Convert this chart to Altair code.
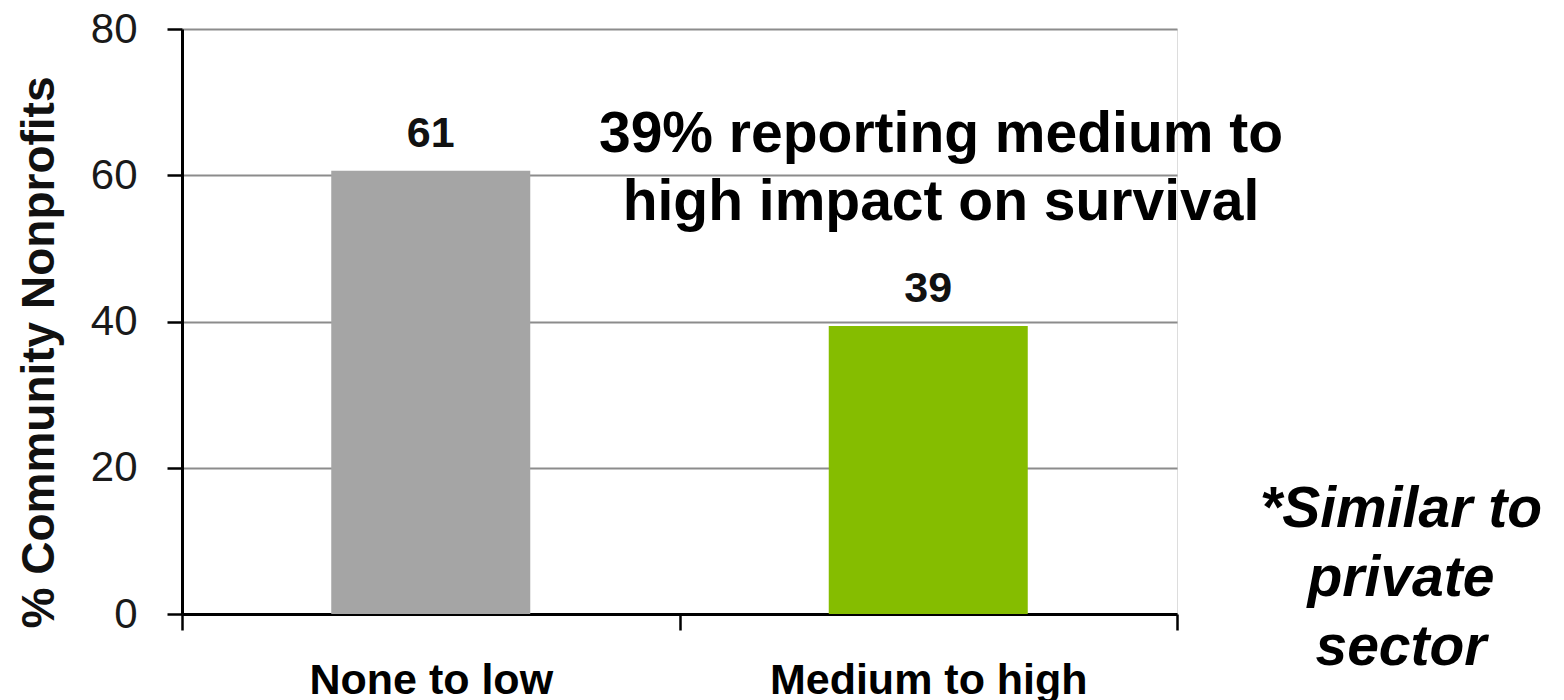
import altair as alt
import pandas as pd

categories = ["None to low", "Medium to high"]
values = [60.6, 39.4]
value_labels = ["61", "39"]
bar_colors = ["#A5A5A5", "#85BD00"]
y_ticks = [0, 20, 40, 60, 80]
y_title = "% Community Nonprofits"
annotation_lines = ["39% reporting medium to", "high impact on survival"]
footnote_lines = ["*Similar to", "private", "sector"]

df = pd.DataFrame({"category": categories, "value": values, "label": value_labels})

W, H = 995, 585

x_enc = alt.X(
    "category:N",
    sort=categories,
    scale=alt.Scale(paddingInner=0, paddingOuter=0),
    axis=alt.Axis(
        title=None,
        labelAngle=0,
        labelLimit=0,
        tickBand="extent",
        tickSize=16,
        tickWidth=2.5,
        tickColor="#000000",
        domainColor="#000000",
        domainWidth=3,
        labelFont="Liberation Sans",
        labelFontWeight="bold",
        labelFontSize=43,
        labelColor="#000000",
        labelBaseline="alphabetic",
        labelPadding=63,
        grid=False,
    ),
)

y_enc = alt.Y(
    "value:Q",
    scale=alt.Scale(domain=[0, 80], nice=False),
    axis=alt.Axis(
        values=y_ticks,
        title=y_title,
        titleFont="Liberation Sans",
        titleFontWeight="bold",
        titleFontSize=46,
        titleColor="#111111",
        titleBaseline="alphabetic",
        titleAngle=270,
        titleX=-129,
        titleY=323,
        titleAlign="center",
        labelFont="Liberation Sans",
        labelFontSize=42,
        labelColor="#1a1a1a",
        labelPadding=30,
        tickSize=15,
        tickWidth=2.5,
        tickColor="#000000",
        domainColor="#000000",
        domainWidth=3,
        grid=True,
        gridColor="#8c8c8c",
        gridWidth=2,
    ),
)

bars = alt.Chart(df).mark_bar(width=alt.RelativeBandSize(0.4)).encode(
    x=x_enc,
    y=y_enc,
    color=alt.Color("category:N", sort=categories,
                    scale=alt.Scale(domain=categories, range=bar_colors), legend=None),
)

bar_text = alt.Chart(df).mark_text(
    font="Liberation Sans", fontWeight="bold", fontSize=43, color="#111111",
    baseline="alphabetic", dy=-24,
).encode(
    x=alt.X("category:N", sort=categories),
    y="value:Q",
    text="label:N",
)

annotation = alt.Chart(pd.DataFrame({"note": ["\n".join(annotation_lines)]})).mark_text(
    font="Liberation Sans", fontWeight="bold", fontSize=57, color="#000000",
    baseline="alphabetic", align="center", lineBreak="\n", lineHeight=68,
).encode(
    text="note:N",
    x=alt.value(759),
    y=alt.value(123),
)

footnote = alt.Chart(pd.DataFrame({"note": ["\n".join(footnote_lines)]})).mark_text(
    font="Liberation Sans", fontWeight="bold", fontStyle="italic", fontSize=57,
    color="#000000", baseline="alphabetic", align="center", lineBreak="\n", lineHeight=69,
).encode(
    text="note:N",
    x=alt.value(1219),
    y=alt.value(498),
)

chart = alt.layer(bars, bar_text, annotation, footnote).properties(
    width=W,
    height=H,
    autosize=alt.AutoSizeParams(type="none"),
    padding={"left": 174, "top": 21, "right": 375, "bottom": 110},
).configure_view(stroke=None).configure(background="#ffffff")

chart.save("out.html", embed_options={"renderer": "svg", "actions": False})
